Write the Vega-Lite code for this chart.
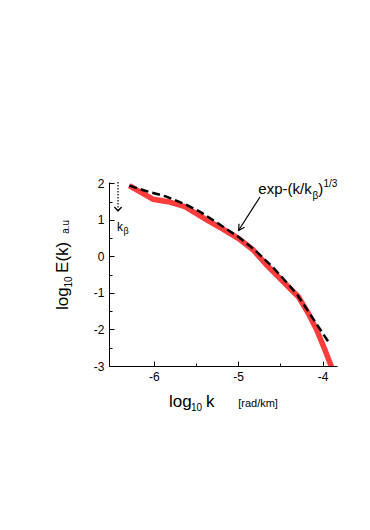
{
  "$schema": "https://vega.github.io/schema/vega-lite/v6.json",
  "width": 228,
  "height": 184,
  "autosize": "none",
  "padding": {"left": 109, "top": 182, "right": 33, "bottom": 164},
  "background": "white",
  "config": {
    "view": {"stroke": null},
    "font": "Liberation Sans",
    "text": {"font": "Liberation Sans", "color": "black"},
    "axis": {
      "grid": false,
      "domainColor": "black",
      "domainWidth": 1,
      "tickColor": "black",
      "tickWidth": 1,
      "labelColor": "black",
      "labelFont": "Liberation Sans",
      "labelFlush": false,
      "title": null
    }
  },
  "datasets": {
    "measured": [
      {"k": -6.29, "E": 1.94},
      {"k": -6.006, "E": 1.566},
      {"k": -5.828, "E": 1.5},
      {"k": -5.63, "E": 1.363},
      {"k": -5.373, "E": 1.0},
      {"k": -5.176, "E": 0.744},
      {"k": -4.999, "E": 0.498},
      {"k": -4.821, "E": 0.177},
      {"k": -4.662, "E": -0.234},
      {"k": -4.466, "E": -0.692},
      {"k": -4.288, "E": -1.102},
      {"k": -4.17, "E": -1.558},
      {"k": -4.07, "E": -2.015},
      {"k": -3.972, "E": -2.563},
      {"k": -3.893, "E": -3.04}
    ],
    "fit": [
      {"k": -6.29, "E": 1.94},
      {"k": -6.1, "E": 1.8},
      {"k": -5.85, "E": 1.64},
      {"k": -5.6, "E": 1.4},
      {"k": -5.45, "E": 1.22},
      {"k": -5.3, "E": 1.0},
      {"k": -5.15, "E": 0.77},
      {"k": -5.0, "E": 0.54},
      {"k": -4.9, "E": 0.36},
      {"k": -4.8, "E": 0.17},
      {"k": -4.7, "E": -0.05},
      {"k": -4.6, "E": -0.27},
      {"k": -4.5, "E": -0.52},
      {"k": -4.4, "E": -0.78},
      {"k": -4.3, "E": -1.05},
      {"k": -4.2, "E": -1.4},
      {"k": -4.1, "E": -1.75},
      {"k": -4.0, "E": -2.1},
      {"k": -3.92, "E": -2.38}
    ],
    "one": [{}]
  },
  "layer": [
    {
      "data": {"name": "measured"},
      "mark": {"type": "line", "color": "#ff3c3c", "strokeWidth": 5.5, "clip": true},
      "encoding": {
        "x": {
          "field": "k", "type": "quantitative",
          "scale": {"domain": [-6.53, -3.83], "nice": false, "zero": false},
          "axis": {
            "values": [-6, -5.5, -5, -4.5, -4],
            "tickCount": 30,
            "labelExpr": "datum.value % 1 === 0 ? '' + datum.value : ''",
            "labelFontSize": {"condition": {"test": "datum.value % 1 === 0", "value": 12}, "value": 0},
            "tickSize": {"condition": {"test": "datum.value % 1 === 0", "value": -5}, "value": -3},
            "labelPadding": 10,
            "labelOverlap": false
          }
        },
        "y": {
          "field": "E", "type": "quantitative",
          "scale": {"domain": [-3, 2.04], "nice": false, "zero": false},
          "axis": {
            "values": [-3, -2.5, -2, -1.5, -1, -0.5, 0, 0.5, 1, 1.5, 2],
            "tickCount": 30,
            "labelExpr": "datum.value % 1 === 0 ? '' + datum.value : ''",
            "labelFontSize": {"condition": {"test": "datum.value % 1 === 0", "value": 12}, "value": 0},
            "tickSize": {"condition": {"test": "datum.value % 1 === 0", "value": -5}, "value": -3},
            "labelPadding": 10,
            "labelOverlap": false,
            "labelBound": false
          }
        }
      }
    },
    {
      "data": {"name": "fit"},
      "mark": {"type": "line", "color": "black", "strokeWidth": 2.5, "strokeDash": [8, 4], "clip": true},
      "encoding": {
        "x": {"field": "k", "type": "quantitative"},
        "y": {"field": "E", "type": "quantitative"}
      }
    },
    {
      "data": {"name": "one"},
      "mark": {"type": "rule", "color": "black", "strokeWidth": 1.2, "strokeDash": [1.5, 1.5]},
      "encoding": {
        "x": {"datum": -6.423}, "y": {"datum": 2.04}, "y2": {"datum": 1.26}
      }
    },
    {
      "data": {"name": "one"},
      "mark": {"type": "point", "shape": "M-0.9,-1L0,0L0.9,-1", "size": 64, "filled": false, "color": "black", "strokeWidth": 1.2, "opacity": 1},
      "encoding": {"x": {"datum": -6.423}, "y": {"datum": 1.245}}
    },
    {
      "data": {"name": "one"},
      "mark": {"type": "text", "text": "k", "fontSize": 12, "align": "left", "baseline": "alphabetic"},
      "encoding": {"x": {"datum": -6.435}, "y": {"datum": 0.698}}
    },
    {
      "data": {"name": "one"},
      "mark": {"type": "text", "text": "β", "fontSize": 9, "align": "left", "baseline": "alphabetic"},
      "encoding": {"x": {"datum": -6.358}, "y": {"datum": 0.615}}
    },
    {
      "data": {"name": "one"},
      "mark": {"type": "rule", "color": "black", "strokeWidth": 1.2},
      "encoding": {
        "x": {"datum": -4.742}, "y": {"datum": 1.629},
        "x2": {"datum": -4.996}, "y2": {"datum": 0.711}
      }
    },
    {
      "data": {"name": "one"},
      "mark": {"type": "point", "shape": "M-0.55,-1L0,0L0.55,-1", "size": 144, "angle": 33, "filled": false, "color": "black", "strokeWidth": 1.2, "opacity": 1},
      "encoding": {"x": {"datum": -4.996}, "y": {"datum": 0.711}}
    },
    {
      "data": {"name": "one"},
      "mark": {"type": "text", "text": "exp-(k/k", "fontSize": 15, "align": "left", "baseline": "alphabetic"},
      "encoding": {"x": {"datum": -4.762}, "y": {"datum": 1.703}}
    },
    {
      "data": {"name": "one"},
      "mark": {"type": "text", "text": "β", "fontSize": 10, "align": "left", "baseline": "alphabetic"},
      "encoding": {"x": {"datum": -4.12}, "y": {"datum": 1.574}}
    },
    {
      "data": {"name": "one"},
      "mark": {"type": "text", "text": ")", "fontSize": 15, "align": "left", "baseline": "alphabetic"},
      "encoding": {"x": {"datum": -4.051}, "y": {"datum": 1.703}}
    },
    {
      "data": {"name": "one"},
      "mark": {"type": "text", "text": "1/3", "fontSize": 10, "align": "left", "baseline": "alphabetic"},
      "encoding": {"x": {"datum": -3.99}, "y": {"datum": 1.911}}
    },
    {
      "data": {"name": "one"},
      "mark": {"type": "text", "text": "log", "fontSize": 17, "align": "left", "baseline": "alphabetic", "angle": 270},
      "encoding": {"x": {"datum": -7.016}, "y": {"datum": -1.467}}
    },
    {
      "data": {"name": "one"},
      "mark": {"type": "text", "text": "10", "fontSize": 10, "align": "left", "baseline": "alphabetic", "angle": 270},
      "encoding": {"x": {"datum": -6.968}, "y": {"datum": -0.85}}
    },
    {
      "data": {"name": "one"},
      "mark": {"type": "text", "text": "E(k)", "fontSize": 17, "align": "left", "baseline": "alphabetic", "angle": 270},
      "encoding": {"x": {"datum": -7.016}, "y": {"datum": -0.45}}
    },
    {
      "data": {"name": "one"},
      "mark": {"type": "text", "text": "a.u", "fontSize": 10, "align": "left", "baseline": "alphabetic", "angle": 270},
      "encoding": {"x": {"datum": -7.004}, "y": {"datum": 0.62}}
    },
    {
      "data": {"name": "one"},
      "mark": {"type": "text", "text": "log", "fontSize": 17, "align": "left", "baseline": "alphabetic"},
      "encoding": {"x": {"datum": -5.819}, "y": {"datum": -4.124}}
    },
    {
      "data": {"name": "one"},
      "mark": {"type": "text", "text": "10", "fontSize": 10, "align": "left", "baseline": "alphabetic"},
      "encoding": {"x": {"datum": -5.56}, "y": {"datum": -4.234}}
    },
    {
      "data": {"name": "one"},
      "mark": {"type": "text", "text": "k", "fontSize": 17, "align": "left", "baseline": "alphabetic"},
      "encoding": {"x": {"datum": -5.38}, "y": {"datum": -4.124}}
    },
    {
      "data": {"name": "one"},
      "mark": {"type": "text", "text": "[rad/km]", "fontSize": 11, "align": "left", "baseline": "alphabetic"},
      "encoding": {"x": {"datum": -5.0}, "y": {"datum": -4.124}}
    }
  ]
}
